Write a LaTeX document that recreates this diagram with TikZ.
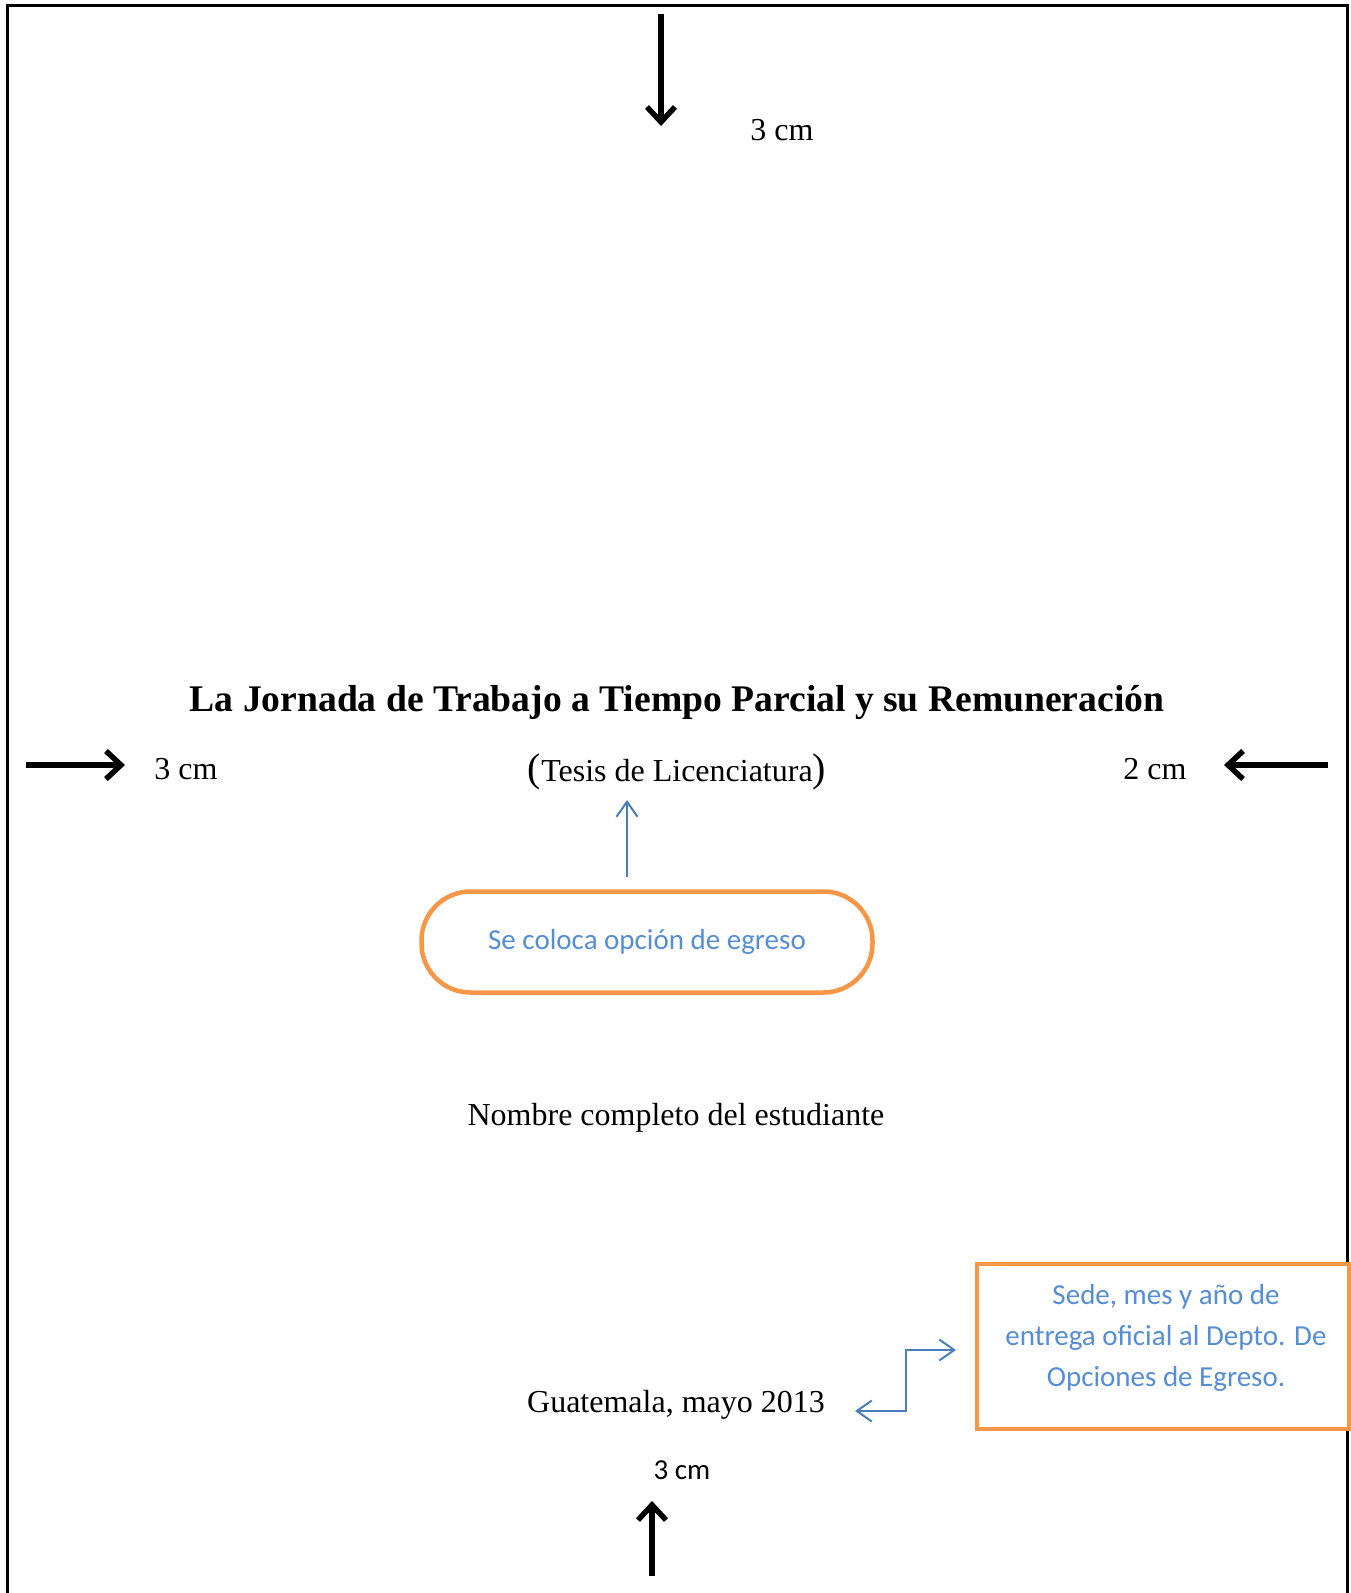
\documentclass[tikz,border=0pt]{standalone}
\usepackage{fontspec}
\setmainfont{Liberation Serif}
\newfontfamily\calibrifont{Carlito}
\usetikzlibrary{arrows.meta,positioning}
\definecolor{hintblue}{HTML}{558ED5}
\definecolor{arrowblue}{HTML}{4A7EBB}
\definecolor{hintorange}{HTML}{F79646}

\begin{document}
\begin{tikzpicture}[x=1pt, y=-1pt,
    margin arrow/.style={-{Straight Barb[length=15pt,width=28pt]}, line width=5.5pt, black},
    hint arrow/.style={-{Straight Barb[length=15pt,width=21pt]}, line width=2pt, arrowblue},
    body/.style={font=\fontsize{32}{38}\selectfont},
    hint/.style={font=\calibrifont\fontsize{29}{41}\selectfont, text=hintblue}]

    \useasboundingbox (0,0) rectangle (1351,1593);

    % Page edges
    \draw[line width=3pt] (7,1593) -- (7,5) -- (1347,5) -- (1347,1593);

    % Margin arrows
    \coordinate (topfrom) at (661,14);
    \coordinate (topto) at (661,126);
    \draw[margin arrow] (topfrom) -- (topto);
    \node[body] (topcm) at (782,130) {3 cm};

    \coordinate (leftfrom) at (26,765);
    \coordinate (leftto) at (125,765);
    \draw[margin arrow] (leftfrom) -- (leftto);
    \node[body] (leftcm) at (186,769) {3 cm};

    \coordinate (rightfrom) at (1328,765);
    \coordinate (rightto) at (1224,765);
    \draw[margin arrow] (rightfrom) -- (rightto);
    \node[body] (rightcm) at (1155,769) {2 cm};

    \coordinate (bottomfrom) at (652,1576);
    \coordinate (bottomto) at (652,1501);
    \draw[margin arrow] (bottomfrom) -- (bottomto);
    \node[font=\calibrifont\fontsize{29}{34}\selectfont] (bottomcm) at (682,1470) {3 cm};

    % Cover texts
    \node[font=\bfseries\fontsize{37.6}{44}\selectfont] (title) at (677,702) {La Jornada de Trabajo a Tiempo Parcial y su Remuneración};
    \node[body] (tesis) at (677,772) {{\fontsize{40}{44}\selectfont(}Tesis de Licenciatura{\fontsize{40}{44}\selectfont)}};
    \node[body] (student) at (676,1118) {Nombre completo del estudiante};
    \node[body] (place) at (676,1405) {Guatemala, mayo 2013};

    % Callout for the option
    \node[hint, draw=hintorange, line width=4.5pt, rounded corners=49pt,
          minimum width=451pt, minimum height=101pt] (option) at (647,942) {Se coloca opción de egreso};
    \coordinate (optfrom) at (627,877);
    \coordinate (optto) at (627,800);
    \draw[hint arrow] (optfrom) -- (optto);

    % Callout for place and date
    \node[draw=hintorange, line width=4pt, fill=white,
          minimum width=372pt, minimum height=165pt] (datebox) at (1163,1346) {};
    \node[hint, align=center] (datetext) at ([xshift=3pt,yshift=8pt]datebox.center)
          {Sede, mes y año de\\entrega oficial al Depto. De\\Opciones de Egreso.};
    \coordinate (dateleft) at (855,1411);
    \coordinate (dateright) at (956,1350);
    \draw[hint arrow, {Straight Barb[length=15pt,width=21pt]}-{Straight Barb[length=15pt,width=21pt]}]
        (dateleft) -- ++(51,0) |- (dateright);

\end{tikzpicture}
\end{document}
